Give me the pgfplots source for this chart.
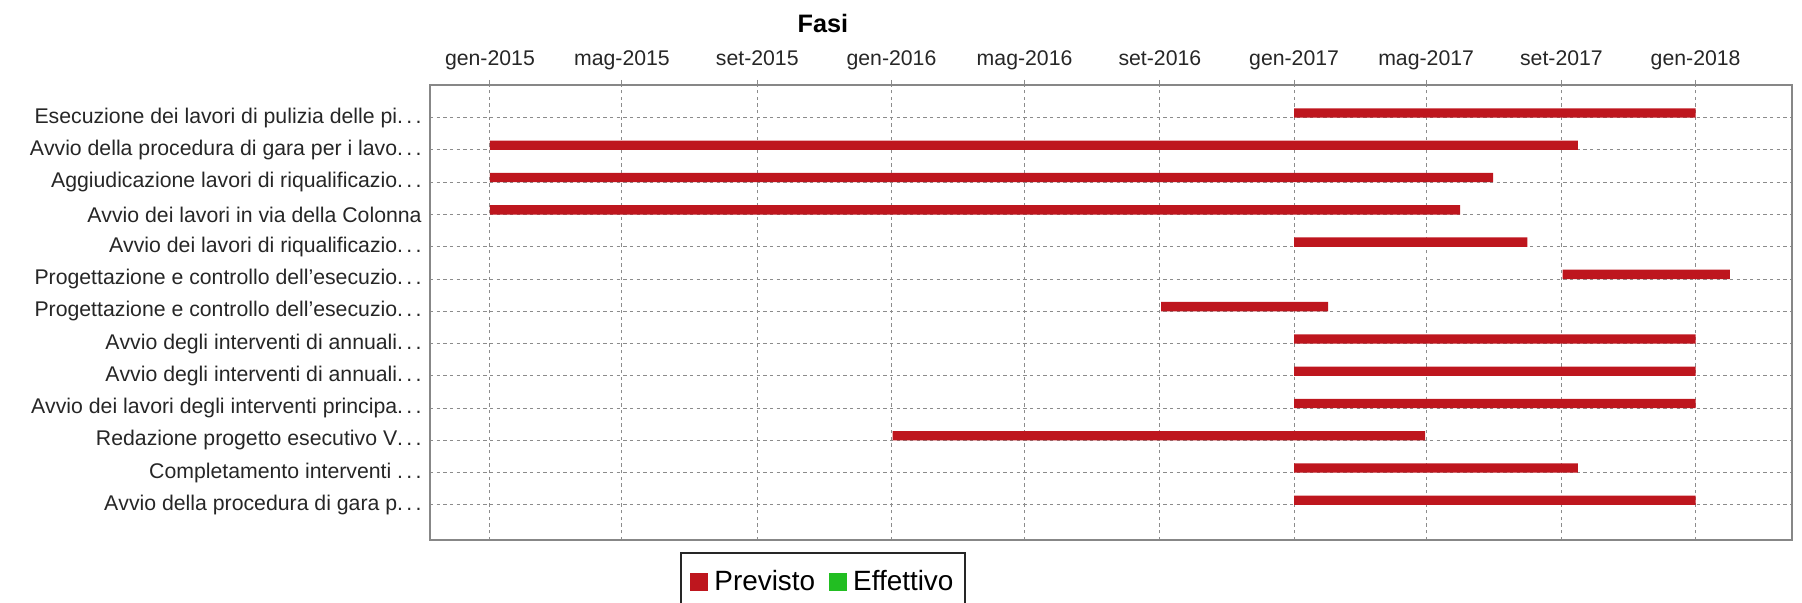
\documentclass[border=0pt]{standalone}
\usepackage{pgfplots}
\usepackage{pgfplotstable}
\pgfplotsset{compat=1.18}
\usepackage{fontspec}
\setmainfont{Liberation Sans}
\newfontfamily\labfont[Kerning=Off]{Liberation Sans}
\definecolor{barred}{RGB}{190,22,30}
\definecolor{effgreen}{RGB}{34,190,34}
\definecolor{gridgray}{RGB}{140,140,140}
\definecolor{bordergray}{RGB}{135,135,135}
\newcommand\dd{.\kern2.5bp.\kern2.5bp.}

% row (1 = bottom, 13 = top), start day, duration (days since 1 Jan 2015)
\pgfplotstableread{
row start dur
13 731 365
12 0 989
11 0 912
10 0 882
9 731 212
8 975 152
7 610 152
6 731 365
5 731 365
4 731 365
3 366 484
2 731 258
1 731 365
}\previsto

\begin{document}
\begin{tikzpicture}
\useasboundingbox (-322.5bp,-47.25bp) rectangle (1029bp,405bp);
\begin{axis}[
  at={(0,0)}, anchor=south west,
  scale only axis, width=1021.5bp, height=341.25bp,
  xmin=-54.5, xmax=1183.6, ymin=-0.085, ymax=14.013,
  xbar stacked, bar width=0.29, bar shift=0.145,
  xtick={0,120,243,365,486,609,731,851,974,1096},
  xticklabels={gen-2015,mag-2015,set-2015,gen-2016,mag-2016,set-2016,gen-2017,mag-2017,set-2017,gen-2018},
  xticklabel pos=upper,
  xtick pos=upper,
  tick align=outside,
  major tick length=3.75bp,
  xtick style={draw=gridgray, line width=0.75bp},
  ytick={1,...,13},
  yticklabels={
    Avvio della procedura di gara p\dd,
    Completamento interventi \dd,
    Redazione progetto esecutivo V\dd,
    Avvio dei lavori degli interventi principa\dd,
    Avvio degli interventi di annuali\dd,
    Avvio degli interventi di annuali\dd,
    Progettazione e controllo dell’esecuzio\dd,
    Progettazione e controllo dell’esecuzio\dd,
    Avvio dei lavori di riqualificazio\dd,
    Avvio dei lavori in via della Colonna,
    Aggiudicazione lavori di riqualificazio\dd,
    Avvio della procedura di gara per i lavo\dd,
    Esecuzione dei lavori di pulizia delle pi\dd},
  ytick style={draw=none},
  ticklabel style={font=\fontsize{16}{19}\selectfont, text=black!85},
  xticklabel style={anchor=base, yshift=10.7bp},
  yticklabel style={xshift=1bp, font=\labfont\fontsize{16}{19}\selectfont},
  grid=major,
  major grid style={gridgray, line width=0.75bp, dash pattern=on 2.5bp off 2.5bp},
  axis line style={bordergray, line width=1.1bp},
  title={\bfseries Fasi},
  title style={at={(axis description cs:0.2885,1)}, anchor=base, yshift=33.75bp,
    font=\fontsize{19}{22}\selectfont},
  legend style={at={(axis description cs:0.2885,0)}, anchor=north, yshift=-9bp,
    draw=black!85, line width=1.2bp, font=\fontsize{21}{25}\selectfont,
    inner xsep=6.5bp, inner ysep=11.25bp,
    /tikz/every odd column/.append style={column sep=3bp},
    /tikz/every even column/.append style={column sep=8bp}},
  legend columns=2,
  legend image code/.code={\fill[#1, draw=none] (0bp,-6.75bp) rectangle (13.5bp,6.75bp);},
]
\addplot[draw=none, fill=none, forget plot] table[x=start, y=row] {\previsto};
\addplot[fill=barred, draw=none, forget plot] table[x=dur, y=row] {\previsto};
\addlegendimage{fill=barred}
\addlegendentry{Previsto}
\addlegendimage{fill=effgreen}
\addlegendentry{Effettivo}
\end{axis}
\end{tikzpicture}
\end{document}
